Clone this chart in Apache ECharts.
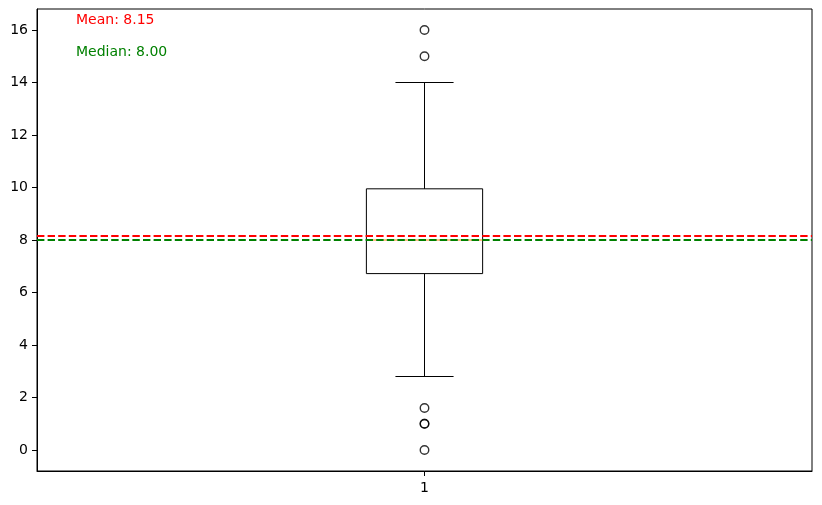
<!DOCTYPE html>
<html>
<head>
<meta charset="utf-8">
<script src="https://cdn.jsdelivr.net/npm/echarts@6/dist/echarts.min.js"></script>
<style>
  html, body { margin: 0; padding: 0; background: #fff; }
  #chart { width: 822px; height: 505px; }
</style>
</head>
<body>
<div id="chart"></div>
<script>
// data
const categories = ['1']
const whiskerLow = [2.8]
const q1 = [6.72]
const median = [8.0]
const q3 = [9.95]
const whiskerHigh = [14.0]
const outliers = [16, 15, 1.6, 1.0, 1.0, 0]
const meanValue = 8.15
const medianValue = 8.00
const yTicks = [0, 2, 4, 6, 8, 10, 12, 14, 16]

const font = 'DejaVu Sans'
const chart = echarts.init(document.getElementById('chart'))

const boxData = categories.map((c, i) => [i, whiskerLow[i], q1[i], median[i], q3[i], whiskerHigh[i]])

// box drawn like matplotlib: caps half the box width
function renderBox (params, api) {
  const x = api.value(0)
  const band = api.size([1, 0])[0]
  const half = band * 0.15 / 2
  const capHalf = half / 2
  const pLow = api.coord([x, api.value(1)])
  const pQ1 = api.coord([x, api.value(2)])
  const pMed = api.coord([x, api.value(3)])
  const pQ3 = api.coord([x, api.value(4)])
  const pHigh = api.coord([x, api.value(5)])
  const cx = pMed[0]
  const black = { stroke: '#000', lineWidth: 1, fill: null }
  return {
    type: 'group',
    children: [
      { type: 'line', shape: { x1: cx, y1: pQ1[1], x2: cx, y2: pLow[1] }, style: black },
      { type: 'line', shape: { x1: cx, y1: pQ3[1], x2: cx, y2: pHigh[1] }, style: black },
      { type: 'line', shape: { x1: cx - capHalf, y1: pLow[1], x2: cx + capHalf, y2: pLow[1] }, style: black },
      { type: 'line', shape: { x1: cx - capHalf, y1: pHigh[1], x2: cx + capHalf, y2: pHigh[1] }, style: black },
      { type: 'rect', shape: { x: cx - half, y: pQ3[1], width: half * 2, height: pQ1[1] - pQ3[1] }, style: black },
      { type: 'line', shape: { x1: cx - half, y1: pMed[1], x2: cx + half, y2: pMed[1] }, style: { stroke: '#ff7f0e', lineWidth: 1 } }
    ]
  }
}

const option = {
  animation: false,
  backgroundColor: '#fff',
  grid: {
    left: 37,
    right: 10,
    top: 9,
    bottom: 34,
    show: true,
    borderColor: '#000',
    borderWidth: 1
  },
  xAxis: {
    type: 'category',
    data: categories,
    axisLine: { show: true, onZero: false, lineStyle: { color: '#000', width: 1 } },
    axisTick: { show: true, alignWithLabel: true, length: 5, lineStyle: { color: '#000' } },
    axisLabel: { color: '#000', fontFamily: font, fontSize: 14, margin: 10 },
    splitLine: { show: false }
  },
  yAxis: {
    type: 'value',
    min: -0.8,
    max: 16.8,
    axisLine: { show: true, onZero: false, lineStyle: { color: '#000', width: 1 } },
    axisTick: { show: true, length: 5, customValues: yTicks, lineStyle: { color: '#000' } },
    axisLabel: { color: '#000', fontFamily: font, fontSize: 14, margin: 9, customValues: yTicks },
    splitLine: { show: false }
  },
  series: [
    {
      type: 'custom',
      renderItem: renderBox,
      data: boxData,
      z: 2
    },
    {
      type: 'scatter',
      data: outliers.map(v => [0, v]),
      symbol: 'circle',
      symbolSize: 8.5,
      itemStyle: { color: 'rgba(0,0,0,0)', borderColor: '#000', borderWidth: 1.4 },
      z: 3,
      markLine: {
        silent: true,
        symbol: 'none',
        label: { show: false },
        data: [
          { yAxis: meanValue, lineStyle: { color: '#ff0000', type: [7.4, 3.2], width: 2.2 } },
          { yAxis: medianValue, lineStyle: { color: '#008000', type: [7.4, 3.2], width: 2.2 } }
        ]
      }
    }
  ],
  graphic: [
    {
      type: 'text',
      left: 76,
      top: 13,
      style: { text: 'Mean: ' + meanValue.toFixed(2), fill: '#ff0000', font: '14px "DejaVu Sans"' }
    },
    {
      type: 'text',
      left: 76,
      top: 45,
      style: { text: 'Median: ' + medianValue.toFixed(2), fill: '#008000', font: '14px "DejaVu Sans"' }
    }
  ]
}

chart.setOption(option)
</script>
</body>
</html>
